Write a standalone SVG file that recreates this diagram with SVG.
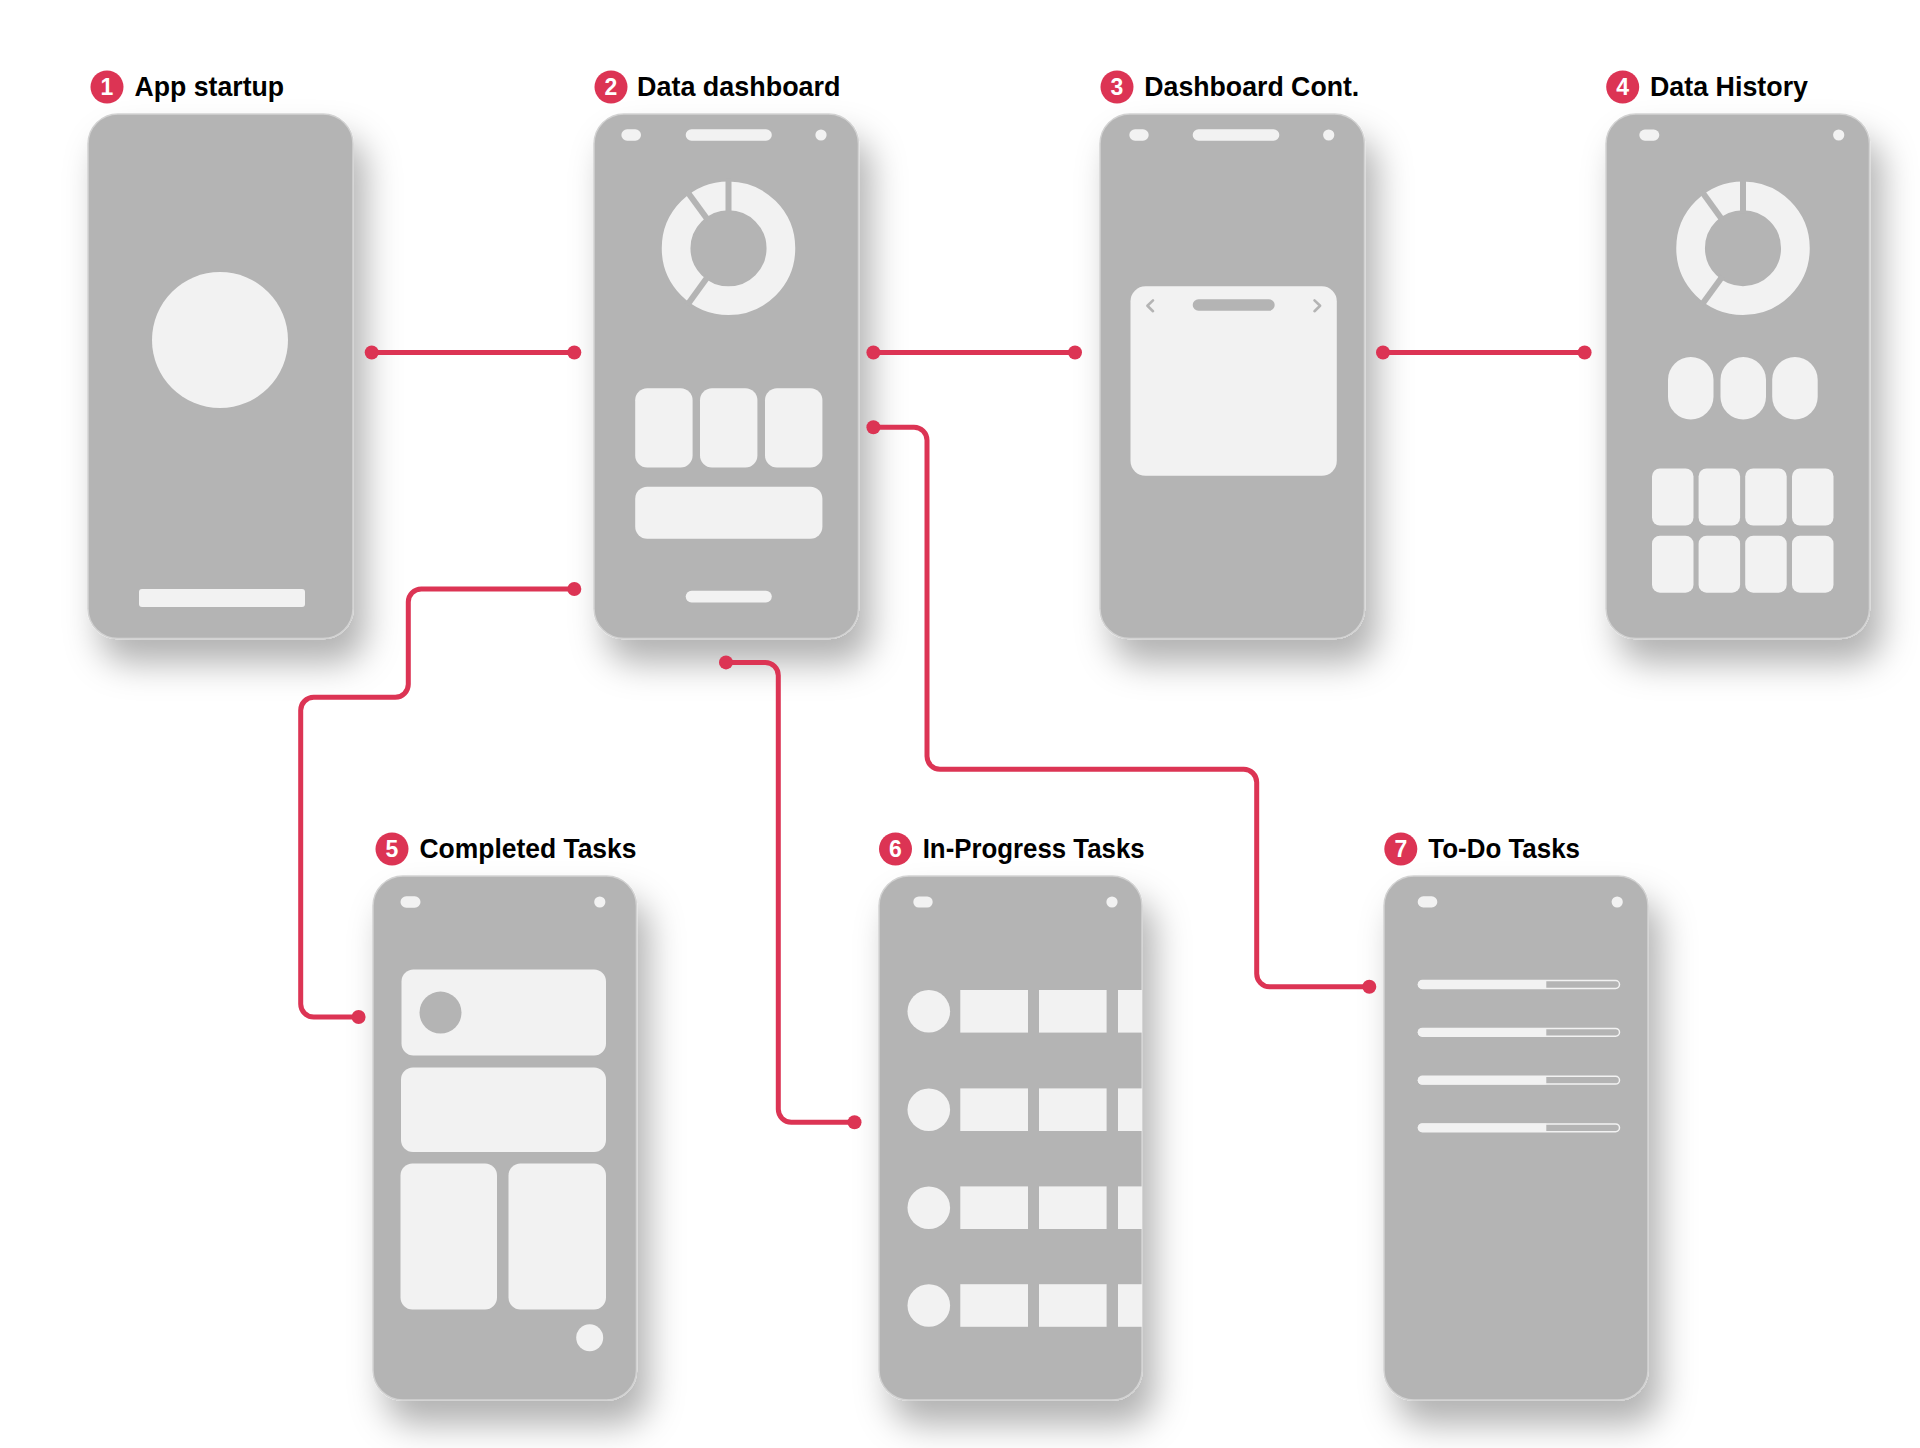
<svg xmlns="http://www.w3.org/2000/svg" width="1920" height="1448" viewBox="0 0 1920 1448">
<style>
.phone{fill:#b4b4b4;stroke:#d2d2d2;stroke-width:1.5}
.ui{fill:#f2f2f2}
.gray{fill:#b4b4b4}
.badge{fill:#dc3454}
.num{font-family:"Liberation Sans",Arial,sans-serif;font-weight:700;font-size:23px;fill:#ffffff;text-anchor:middle}
.title{font-family:"Liberation Sans",Arial,sans-serif;font-weight:700;font-size:27px;fill:#000000}
.conn{fill:none;stroke:#dc3454;stroke-width:5;stroke-linecap:round;stroke-linejoin:round}
.dot{fill:#dc3454}
.ring{fill:none;stroke:#f2f2f2;stroke-width:28.7}
.gap{stroke:#b4b4b4;stroke-width:6;stroke-linecap:butt}
.chev{fill:none;stroke:#b4b4b4;stroke-width:2.6;stroke-linecap:round;stroke-linejoin:round}
.bar{fill:#b4b4b4;stroke:#f2f2f2;stroke-width:1.5}
</style>
<defs>
<filter id="shadow" x="-30%" y="-20%" width="170%" height="150%">
<feDropShadow dx="12" dy="24" stdDeviation="17" flood-color="#000000" flood-opacity="0.3"/>
</filter>
</defs>
<rect x="0" y="0" width="1920" height="1448" fill="#ffffff"/>

<g id="node1">
<circle class="badge" cx="107" cy="87" r="16.5"/>
<text class="num" x="107" y="95.2">1</text>
<text class="title" x="134.6" y="96" textLength="149.5" lengthAdjust="spacingAndGlyphs">App startup</text>
<rect class="phone" x="88" y="114" width="265" height="524.5" rx="30" filter="url(#shadow)"/>
<circle class="ui" cx="220" cy="340" r="68"/>
<rect class="ui" x="139" y="589" width="166" height="18" rx="3"/>
</g>

<g id="node2">
<circle class="badge" cx="611" cy="87" r="16.5"/>
<text class="num" x="611" y="95.2">2</text>
<text class="title" x="637" y="96" textLength="203.5" lengthAdjust="spacingAndGlyphs">Data dashboard</text>
<rect class="phone" x="594" y="114" width="264.5" height="524.5" rx="30" filter="url(#shadow)"/>
<rect class="ui" x="621.4" y="129.3" width="19.6" height="11.5" rx="5.75"/>
<rect class="ui" x="685.7" y="129.3" width="86.1" height="11.5" rx="5.75"/>
<circle class="ui" cx="821" cy="135" r="5.6"/>
<circle class="ring" cx="728.5" cy="248.3" r="52.4"/>
<line class="gap" x1="728.5" y1="213.3" x2="728.5" y2="178.3"/>
<line class="gap" x1="707.9" y1="220" x2="687.3" y2="191.7"/>
<line class="gap" x1="707.9" y1="276.6" x2="687.3" y2="304.9"/>
<rect class="ui" x="635.2" y="388.2" width="57.4" height="79.4" rx="12"/>
<rect class="ui" x="700" y="388.2" width="57.4" height="79.4" rx="12"/>
<rect class="ui" x="765" y="388.2" width="57.4" height="79.4" rx="12"/>
<rect class="ui" x="635.2" y="486.7" width="187.2" height="52" rx="12"/>
<rect class="ui" x="685.7" y="590.7" width="86.1" height="11.7" rx="5.85"/>
</g>

<g id="node3">
<circle class="badge" cx="1117" cy="87" r="16.5"/>
<text class="num" x="1117" y="95.2">3</text>
<text class="title" x="1144.3" y="96" textLength="215" lengthAdjust="spacingAndGlyphs">Dashboard Cont.</text>
<rect class="phone" x="1100" y="114" width="264.5" height="524.5" rx="30" filter="url(#shadow)"/>
<rect class="ui" x="1129.3" y="129.3" width="19.4" height="11.5" rx="5.75"/>
<rect class="ui" x="1192.7" y="129.3" width="86.6" height="11.5" rx="5.75"/>
<circle class="ui" cx="1328.7" cy="135" r="5.6"/>
<rect class="ui" x="1130.5" y="286.3" width="206.3" height="189.5" rx="15"/>
<rect class="gray" x="1192.7" y="299.3" width="82" height="11.5" rx="5.75"/>
<polyline class="chev" points="1153,300.4 1147.4,305.8 1153,311.2"/>
<polyline class="chev" points="1314.5,300.4 1320.1,305.8 1314.5,311.2"/>
</g>

<g id="node4">
<circle class="badge" cx="1622.7" cy="87" r="16.5"/>
<text class="num" x="1622.7" y="95.2">4</text>
<text class="title" x="1650" y="96" textLength="158" lengthAdjust="spacingAndGlyphs">Data History</text>
<rect class="phone" x="1606" y="114" width="263.5" height="524.5" rx="30" filter="url(#shadow)"/>
<rect class="ui" x="1639.3" y="129.5" width="20" height="11.2" rx="5.6"/>
<circle class="ui" cx="1838.7" cy="135" r="5.6"/>
<circle class="ring" cx="1743" cy="248.2" r="52.4"/>
<line class="gap" x1="1743" y1="213.2" x2="1743" y2="178.2"/>
<line class="gap" x1="1722.4" y1="219.9" x2="1701.8" y2="191.6"/>
<line class="gap" x1="1722.4" y1="276.5" x2="1701.8" y2="304.8"/>
<rect class="ui" x="1668" y="357" width="45.5" height="62.5" rx="22.75"/>
<rect class="ui" x="1720.5" y="357" width="45.5" height="62.5" rx="22.75"/>
<rect class="ui" x="1772.2" y="357" width="45.5" height="62.5" rx="22.75"/>
<rect class="ui" x="1652" y="468.5" width="41.5" height="57" rx="8"/>
<rect class="ui" x="1698.6" y="468.5" width="41.5" height="57" rx="8"/>
<rect class="ui" x="1745.2" y="468.5" width="41.5" height="57" rx="8"/>
<rect class="ui" x="1792" y="468.5" width="41.5" height="57" rx="8"/>
<rect class="ui" x="1652" y="535.7" width="41.5" height="57" rx="8"/>
<rect class="ui" x="1698.6" y="535.7" width="41.5" height="57" rx="8"/>
<rect class="ui" x="1745.2" y="535.7" width="41.5" height="57" rx="8"/>
<rect class="ui" x="1792" y="535.7" width="41.5" height="57" rx="8"/>
</g>

<g id="node5">
<circle class="badge" cx="392" cy="849" r="16.5"/>
<text class="num" x="392" y="857.2">5</text>
<text class="title" x="419.5" y="858" textLength="217" lengthAdjust="spacingAndGlyphs">Completed Tasks</text>
<rect class="phone" x="373" y="876" width="263.5" height="524" rx="30" filter="url(#shadow)"/>
<rect class="ui" x="400.5" y="896.3" width="20" height="11.5" rx="5.75"/>
<circle class="ui" cx="599.8" cy="902" r="5.6"/>
<rect class="ui" x="401.5" y="969.4" width="204.5" height="86" rx="12"/>
<circle class="gray" cx="440.5" cy="1012.6" r="21"/>
<rect class="ui" x="401" y="1067.4" width="205" height="84.6" rx="12"/>
<rect class="ui" x="400.5" y="1163.6" width="96.5" height="145.9" rx="12"/>
<rect class="ui" x="508.5" y="1163.6" width="97.5" height="145.9" rx="12"/>
<circle class="ui" cx="589.7" cy="1337.8" r="13.5"/>
</g>

<g id="node6">
<circle class="badge" cx="895.5" cy="849" r="16.5"/>
<text class="num" x="895.5" y="857.2">6</text>
<text class="title" x="922.7" y="858" textLength="222" lengthAdjust="spacingAndGlyphs">In-Progress Tasks</text>
<rect class="phone" x="879" y="876" width="263" height="524" rx="30" filter="url(#shadow)"/>
<rect class="ui" x="913.3" y="896.5" width="19.4" height="11" rx="5.5"/>
<circle class="ui" cx="1112" cy="902" r="5.6"/>
<circle class="ui" cx="928.8" cy="1011.3" r="21.3"/>
<rect class="ui" x="960.3" y="990" width="67.7" height="42.6"/>
<rect class="ui" x="1039" y="990" width="67.6" height="42.6"/>
<rect class="ui" x="1118" y="990" width="24" height="42.6"/>
<circle class="ui" cx="928.8" cy="1109.7" r="21.3"/>
<rect class="ui" x="960.3" y="1088.4" width="67.7" height="42.6"/>
<rect class="ui" x="1039" y="1088.4" width="67.6" height="42.6"/>
<rect class="ui" x="1118" y="1088.4" width="24" height="42.6"/>
<circle class="ui" cx="928.8" cy="1207.7" r="21.3"/>
<rect class="ui" x="960.3" y="1186.4" width="67.7" height="42.6"/>
<rect class="ui" x="1039" y="1186.4" width="67.6" height="42.6"/>
<rect class="ui" x="1118" y="1186.4" width="24" height="42.6"/>
<circle class="ui" cx="928.8" cy="1305.5" r="21.3"/>
<rect class="ui" x="960.3" y="1284.2" width="67.7" height="42.6"/>
<rect class="ui" x="1039" y="1284.2" width="67.6" height="42.6"/>
<rect class="ui" x="1118" y="1284.2" width="24" height="42.6"/>
</g>

<g id="node7">
<circle class="badge" cx="1400.8" cy="849" r="16.5"/>
<text class="num" x="1400.8" y="857.2">7</text>
<text class="title" x="1428.3" y="858" textLength="151.7" lengthAdjust="spacingAndGlyphs">To-Do Tasks</text>
<rect class="phone" x="1384" y="876" width="264" height="524" rx="30" filter="url(#shadow)"/>
<rect class="ui" x="1417.7" y="896.3" width="19.6" height="11.2" rx="5.6"/>
<circle class="ui" cx="1617.2" cy="902" r="5.6"/>
<rect class="bar" x="1418.5" y="980.6" width="201" height="7.8" rx="3.9"/>
<path class="ui" d="M1546.3,980.2 H1422 A4.3,4.3 0 0 0 1422,988.8 H1546.3 Z"/>
<rect class="bar" x="1418.5" y="1028.4" width="201" height="7.8" rx="3.9"/>
<path class="ui" d="M1546.3,1028 H1422 A4.3,4.3 0 0 0 1422,1036.6 H1546.3 Z"/>
<rect class="bar" x="1418.5" y="1076.3" width="201" height="7.8" rx="3.9"/>
<path class="ui" d="M1546.3,1075.9 H1422 A4.3,4.3 0 0 0 1422,1084.5 H1546.3 Z"/>
<rect class="bar" x="1418.5" y="1123.9" width="201" height="7.8" rx="3.9"/>
<path class="ui" d="M1546.3,1123.5 H1422 A4.3,4.3 0 0 0 1422,1132.1 H1546.3 Z"/>
</g>

<g id="connectors">
<path class="conn" d="M371.7,352.5 H574.3"/>
<circle class="dot" cx="371.7" cy="352.5" r="7"/>
<circle class="dot" cx="574.3" cy="352.5" r="7"/>
<path class="conn" d="M873.4,352.5 H1075"/>
<circle class="dot" cx="873.4" cy="352.5" r="7"/>
<circle class="dot" cx="1075" cy="352.5" r="7"/>
<path class="conn" d="M1383,352.5 H1584.6"/>
<circle class="dot" cx="1383" cy="352.5" r="7"/>
<circle class="dot" cx="1584.6" cy="352.5" r="7"/>
<path class="conn" d="M574.3,589 H421.3 A13,13 0 0 0 408.3,602 V684.3 A13,13 0 0 1 395.3,697.3 H313.7 A13,13 0 0 0 300.7,710.3 V1004 A13,13 0 0 0 313.7,1017 H358.6"/>
<circle class="dot" cx="574.3" cy="589" r="7"/>
<circle class="dot" cx="358.6" cy="1017" r="7"/>
<path class="conn" d="M726,662.4 H765.3 A13,13 0 0 1 778.3,675.4 V1109.3 A13,13 0 0 0 791.3,1122.3 H854.5"/>
<circle class="dot" cx="726" cy="662.4" r="7"/>
<circle class="dot" cx="854.5" cy="1122.3" r="7"/>
<path class="conn" d="M873.4,427.2 H914 A13,13 0 0 1 927,440.2 V756.3 A13,13 0 0 0 940,769.3 H1243.7 A13,13 0 0 1 1256.7,782.3 V973.8 A13,13 0 0 0 1269.7,986.8 H1369.3"/>
<circle class="dot" cx="873.4" cy="427.2" r="7"/>
<circle class="dot" cx="1369.3" cy="986.8" r="7"/>
</g>
</svg>
